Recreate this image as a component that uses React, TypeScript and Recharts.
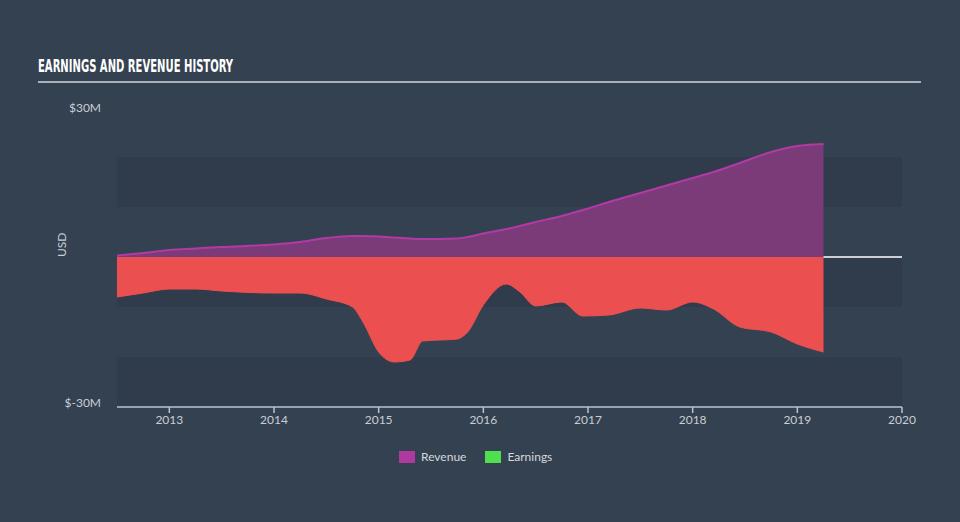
import React from "react";
import {
  ComposedChart,
  Area,
  XAxis,
  YAxis,
  ReferenceArea,
  ReferenceLine,
} from "recharts";

const years = [
  2012.5, 2012.75, 2013.0, 2013.25, 2013.5, 2014.0, 2014.25, 2014.5, 2014.75, 2014.85,
  2015.0, 2015.15, 2015.3, 2015.42, 2015.75, 2015.85, 2016.0, 2016.22, 2016.35, 2016.5,
  2016.75, 2016.95, 2017.2, 2017.5, 2017.75, 2018.0, 2018.2, 2018.45, 2018.75, 2019.0, 2019.25,
];
const revenue = [
  0.3, 0.8, 1.4, 1.7, 2.0, 2.5, 3.0, 3.8, 4.2, 4.2,
  4.1, 3.9, 3.7, 3.6, 3.7, 4.0, 4.7, 5.6, 6.2, 7.0,
  8.2, 9.4, 11.0, 12.8, 14.3, 15.8, 17.0, 18.8, 21.0, 22.2, 22.6,
];
const earnings = [
  -8.0, -7.2, -6.4, -6.4, -6.8, -7.2, -7.2, -8.4, -10.0, -13.0,
  -19.0, -21.0, -20.6, -16.8, -16.4, -15.0, -9.6, -5.4, -7.0, -9.8,
  -9.0, -11.8, -11.6, -10.2, -10.6, -9.0, -10.4, -14.0, -15.0, -17.4, -19.0,
];
const xTicks = [2013, 2014, 2015, 2016, 2017, 2018, 2019, 2020];
const yTicks = [-30, 30];
const bands: [number, number][] = [
  [10, 20],
  [-10, 0],
  [-30, -20],
];

const data = years.map((x, i) => ({ x, revenue: revenue[i], earnings: earnings[i] }));
const lastYear = years[years.length - 1];

const BG = "#344150";
const BAND = "#303c4b";
const FONT = "Lato, 'Open Sans', sans-serif";

const YTick = (props: any) => {
  const { y, payload } = props;
  const v = payload.value;
  return (
    <text
      x={101}
      y={y}
      dy={v > 0 ? 5 : 0}
      textAnchor="end"
      fill="#c9ced6"
      fontSize={12}
      fontFamily={FONT}
    >
      {`$${v}M`}
    </text>
  );
};

export default function App() {
  return (
    <div
      style={{
        position: "absolute",
        left: 0,
        top: 0,
        width: 960,
        height: 522,
        background: BG,
        overflow: "hidden",
        fontFamily: FONT,
      }}
    >
      <div
        style={{
          position: "absolute",
          left: 38,
          top: 55,
          fontFamily: "'DejaVu Sans Condensed', 'DejaVu Sans', sans-serif",
          fontWeight: 700,
          fontSize: 18,
          color: "#ffffff",
          whiteSpace: "nowrap",
          transform: "scaleX(0.62)",
          transformOrigin: "left top",
        }}
      >
        EARNINGS AND REVENUE HISTORY
      </div>
      <div
        style={{
          position: "absolute",
          left: 38,
          top: 81,
          width: 883,
          height: 2,
          background: "#a9b0ba",
        }}
      />
      <ComposedChart
        width={960}
        height={522}
        data={data}
        margin={{ top: 107, right: 58, left: 0, bottom: 0 }}
      >
        {bands.map(([a, b], i) => (
          <ReferenceArea
            key={i}
            y1={a}
            y2={b}
            x1={2012.5}
            x2={2020}
            fill={BAND}
            fillOpacity={1}
            stroke="none"
            ifOverflow="visible"
          />
        ))}
        <XAxis
          dataKey="x"
          type="number"
          domain={[2012.5, 2020]}
          ticks={xTicks}
          height={115}
          axisLine={{ stroke: "#b9c4d1", strokeWidth: 1.5 }}
          tickLine={{ stroke: "#b9c4d1", strokeWidth: 1.5 }}
          tickSize={6}
          tick={{ fill: "#c9ced6", fontSize: 12, fontFamily: FONT }}
          allowDataOverflow
        />
        <YAxis
          type="number"
          domain={[-30, 30]}
          ticks={yTicks}
          width={117}
          axisLine={false}
          tickLine={false}
          tick={<YTick />}
          label={{
            value: "USD",
            angle: -90,
            position: "insideLeft",
            offset: 62,
            fill: "#c9ced6",
            fontSize: 12,
            fontFamily: FONT,
          }}
        />
        <Area
          type="monotone"
          dataKey="revenue"
          stroke="#b23aa6"
          strokeWidth={2}
          fill="#7b3a78"
          fillOpacity={1}
          isAnimationActive={false}
        />
        <Area
          type="monotone"
          dataKey="earnings"
          stroke="#ef5050"
          strokeWidth={1}
          fill="#ec4f50"
          fillOpacity={1}
          isAnimationActive={false}
        />
        <ReferenceLine
          segment={[
            { x: lastYear, y: 0 },
            { x: 2020, y: 0 },
          ]}
          stroke="#ffffff"
          strokeWidth={1.5}
        />
      </ComposedChart>
      <div
        style={{
          position: "absolute",
          top: 449,
          left: 399,
          display: "flex",
          alignItems: "center",
          fontSize: 12,
          color: "#d4d8de",
          fontFamily: FONT,
        }}
      >
        <span style={{ display: "inline-block", width: 16, height: 12, background: "#b0389e", marginRight: 6 }} />
        <span style={{ marginRight: 19 }}>Revenue</span>
        <span style={{ display: "inline-block", width: 16, height: 12, background: "#4fe04f", marginRight: 6 }} />
        <span>Earnings</span>
      </div>
    </div>
  );
}
